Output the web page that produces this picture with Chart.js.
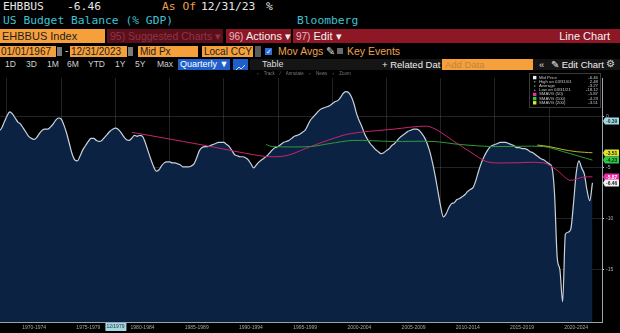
<!DOCTYPE html>
<html>
<head>
<meta charset="utf-8">
<script src="https://cdn.jsdelivr.net/npm/chart.js@4.4.1/dist/chart.umd.min.js"></script>
<style>
  html, body { margin: 0; padding: 0; background: #000; }
  body { width: 620px; height: 333px; position: relative; overflow: hidden; }
  .t { position: absolute; white-space: nowrap; }
  .mono { font-family: "DejaVu Sans Mono", monospace; font-size: 11.3px; line-height: 14px; height: 14px; }
  .sans { font-family: "Liberation Sans", Arial, sans-serif; }
  .orange { background: #f6a03c; color: #1c1c1c; }
  #chart { position: absolute; left: 0; top: 70px; }
</style>
</head>
<body>

<!-- security line -->
<span class="t mono" style="left:3px;top:0;color:#e6e6e6">EHBBUS</span>
<span class="t mono" style="left:67px;top:0;color:#e6e6e6">-6.46</span>
<span class="t mono" style="left:162px;top:0;color:#eea24a">As Of</span>
<span class="t mono" style="left:201px;top:0;color:#e6e6e6">12/31/23</span>
<span class="t mono" style="left:266px;top:0;color:#e6e6e6">%</span>
<span class="t mono" style="left:3px;top:14px;color:#3ec2d6">US Budget Balance (% GDP)</span>
<span class="t mono" style="left:297px;top:14px;color:#3ec2d6">Bloomberg</span>

<!-- menu bar -->
<div class="t" style="left:0;top:29px;width:620px;height:14px;background:#8e1726"></div>
<div class="t sans orange" style="left:0;top:29px;width:105px;height:14px;font-size:11px;line-height:14px;padding-left:2px;box-sizing:border-box">EHBBUS Index</div>
<div class="t" style="left:105px;top:29px;width:2px;height:14px;background:#000"></div>
<div class="t sans" style="left:107px;top:29px;width:116px;height:14px;background:#5c0f1b;color:#8c3644;font-size:10.5px;line-height:14px;padding-left:3px;box-sizing:border-box">95) Suggested Charts ▾</div>
<div class="t" style="left:223px;top:29px;width:3px;height:14px;background:#000"></div>
<span class="t sans" style="left:229px;top:29px;font-size:11px;line-height:14px;color:#f2f2f2"><span style="color:#e7b9bf;font-size:10px">96)</span> Actions ▾</span>
<div class="t" style="left:291px;top:29px;width:2px;height:14px;background:#000"></div>
<span class="t sans" style="left:296px;top:29px;font-size:11px;line-height:14px;color:#f2f2f2"><span style="color:#e7b9bf;font-size:10px">97)</span> Edit ▾</span>
<span class="t sans" style="right:10px;top:29px;font-size:11px;line-height:14px;color:#f2f2f2">Line Chart</span>

<!-- range / field row -->
<div class="t sans orange" style="left:0;top:46px;width:56px;height:11px;font-size:10px;line-height:11px;padding-left:1px;box-sizing:border-box">01/01/1967</div>
<div class="t" style="left:57px;top:47px;width:5px;height:9px;background:#7a7a7a"></div>
<span class="t sans" style="left:65px;top:45px;font-size:10px;line-height:11px;color:#ddd">-</span>
<div class="t sans orange" style="left:70px;top:46px;width:57px;height:11px;font-size:10px;line-height:11px;padding-left:1px;box-sizing:border-box">12/31/2023</div>
<div class="t" style="left:128px;top:47px;width:5px;height:9px;background:#7a7a7a"></div>
<div class="t sans orange" style="left:138px;top:46px;width:60px;height:11px;font-size:10px;line-height:11px;padding-left:2px;box-sizing:border-box">Mid Px</div>
<div class="t sans orange" style="left:202px;top:46px;width:51px;height:11px;font-size:10px;line-height:11px;padding-left:2px;box-sizing:border-box">Local CCY</div>
<div class="t" style="left:255px;top:46px;width:6px;height:11px;background:#5a5a5a"></div>
<div class="t sans" style="left:265px;top:48px;width:7px;height:7px;background:#2d6fdc;color:#fff;font-size:7px;line-height:7px;text-align:center">✓</div>
<span class="t sans" style="left:278px;top:46px;font-size:10.5px;line-height:11px;color:#eea24a">Mov Avgs <span style="color:#ddd">✎</span></span>
<div class="t" style="left:337px;top:48px;width:6px;height:6px;background:#6a6a6a"></div>
<span class="t sans" style="left:347px;top:46px;font-size:10.5px;line-height:11px;color:#eea24a">Key Events</span>

<!-- toolbar row -->
<div class="t" style="left:250px;top:59px;width:370px;height:11px;background:#151515"></div>
<span class="t sans" style="left:5px;top:59px;font-size:8.5px;line-height:11px;color:#cfcfcf;word-spacing:0">1D</span>
<span class="t sans" style="left:26px;top:59px;font-size:8.5px;line-height:11px;color:#cfcfcf">3D</span>
<span class="t sans" style="left:47px;top:59px;font-size:8.5px;line-height:11px;color:#cfcfcf">1M</span>
<span class="t sans" style="left:67px;top:59px;font-size:8.5px;line-height:11px;color:#cfcfcf">6M</span>
<span class="t sans" style="left:88px;top:59px;font-size:8.5px;line-height:11px;color:#cfcfcf">YTD</span>
<span class="t sans" style="left:115px;top:59px;font-size:8.5px;line-height:11px;color:#cfcfcf">1Y</span>
<span class="t sans" style="left:135px;top:59px;font-size:8.5px;line-height:11px;color:#cfcfcf">5Y</span>
<span class="t sans" style="left:157px;top:59px;font-size:8.5px;line-height:11px;color:#cfcfcf">Max</span>
<div class="t sans" style="left:178px;top:59px;width:52px;height:11px;background:#1f5fcc;color:#fff;font-size:9px;line-height:11px;padding-left:2px;box-sizing:border-box">Quarterly ▼</div>
<div class="t" style="left:233px;top:59px;width:15px;height:11px;background:#1f5fcc">
  <svg width="15" height="11"><polyline points="3,8 6,5 8,7 12,3" fill="none" stroke="#cfe0ff" stroke-width="1"/></svg>
</div>
<span class="t sans" style="left:262px;top:59px;font-size:9px;line-height:11px;color:#ddd">Table</span>
<span class="t sans" style="left:382px;top:59px;font-size:9.5px;line-height:11px;color:#eee">+ Related Dat</span>
<div class="t sans orange" style="left:442px;top:59px;width:91px;height:11px;font-size:9.5px;line-height:11px;padding-left:3px;box-sizing:border-box;color:#c2843a">Add Data</div>
<span class="t sans" style="left:539px;top:59px;font-size:9.5px;line-height:11px;color:#ddd">«</span>
<span class="t sans" style="left:551px;top:59px;font-size:9.5px;line-height:11px;color:#eee">✎ Edit Chart</span>
<span class="t sans" style="left:606px;top:58px;font-size:10px;line-height:11px;color:#ddd">⚙</span>

<canvas id="chart" width="620" height="263"></canvas>

<span class="t sans" style="left:257px;top:70px;font-size:4.5px;line-height:8px;color:#7a7a7a;word-spacing:4px">▫ Track ⁄ Annotate ▫ News ▫ Zoom</span>

<script>
// US budget balance, % of GDP, quarterly (rolling 4 quarters)
var firstQuarter = 1969.25;
var budgetBalance = [
  -1.4, -1.1, -0.5,
  0.1, 0.5, 0.3, -0.1,
  -0.5, -0.7, -1.1, -1.5,
  -1.9, -2.1, -2.2, -2.0,
  -1.6, -1.3, -1.2, -1.2,
  -1.0, -0.7, -0.3, -0.1,
  -0.2, -0.8, -1.6, -2.6,
  -3.6, -4.2, -4.3, -3.8,
  -3.2, -2.8, -2.4, -2.1,
  -2.1, -2.3, -2.4, -2.3,
  -2.0, -1.7, -1.4, -1.2,
  -1.1, -1.2, -1.5, -1.9,
  -2.2, -2.3, -2.1, -1.8,
  -1.9, -1.8, -1.9, -2.5,
  -3.3, -4.1, -4.8, -5.3,
  -5.2, -4.8, -4.5, -4.4,
  -4.4, -4.5, -4.5, -4.6,
  -4.7, -4.9, -4.9, -4.9,
  -4.8, -4.6, -4.0, -3.3,
  -3.0, -2.9, -2.9, -2.8,
  -2.7, -2.6, -2.5, -2.5,
  -2.5, -2.7, -2.9, -3.3,
  -3.7, -3.8, -3.9, -3.9,
  -4.0, -4.2, -4.6, -5.0,
  -4.7, -4.4, -4.2, -4.0,
  -3.8, -3.5, -3.2, -3.0,
  -2.9, -2.7, -2.5, -2.4,
  -2.3, -2.1, -1.9, -1.8,
  -1.7, -1.5, -1.3, -0.8,
  -0.3, 0.0, 0.3, 0.6,
  0.8, 0.9, 1.0, 1.1,
  1.3, 1.5, 1.6, 1.9,
  2.3, 2.48, 2.4, 2.0,
  1.3, 0.3, -0.4, -1.0,
  -1.7, -2.2, -2.6, -2.9,
  -3.2, -3.4, -3.6, -3.5,
  -3.3, -3.1, -2.8, -2.6,
  -2.3, -2.0, -1.8, -1.6,
  -1.4, -1.3, -1.2, -1.2,
  -1.3, -1.6, -2.0, -2.6,
  -3.4, -4.5, -5.8, -7.3,
  -8.8, -9.8, -9.5, -8.9,
  -8.5, -8.4, -8.1, -8.0,
  -7.8, -7.6, -7.3, -7.1,
  -6.9, -6.2, -5.3, -4.5,
  -3.9, -3.4, -3.0, -2.8,
  -2.7, -2.6, -2.5, -2.5,
  -2.5, -2.6, -2.7, -2.8,
  -3.0, -3.0, -3.1, -3.1,
  -3.2, -3.4, -3.5, -3.7,
  -3.9, -4.1, -4.2, -4.4,
  -4.6, -4.9, -7.5, -13.8,
  -15.0, -18.12, -11.5, -11.3,
  -11.0, -8.5, -5.5, -4.3,
  -5.0, -5.6, -7.2, -8.2,
  -6.46
];

// simple moving averages
var sma50Years = [1981.5, 1987.8, 1993.3, 1994.9, 1996.1, 1998.0, 2001.0, 2002.6, 2005.6, 2008.7, 2009.7, 2011.1, 2012.7, 2014.3, 2016.4, 2019.5, 2020.7, 2021.9, 2023.1, 2024.0];
var sma50 = [-1.5, -2.7, -3.8, -3.9, -3.7, -2.9, -1.8, -1.5, -1.2, -0.9, -1.3, -2.3, -3.4, -4.4, -4.5, -4.5, -5.2, -6.2, -5.9, -5.87];
var sma100Years = [1993.9, 1994.5, 1998.0, 1999.8, 2001.9, 2005.6, 2009.3, 2011.8, 2014.8, 2019.5, 2021.3, 2024.0];
var sma100 = [-2.7, -2.9, -2.9, -2.6, -2.3, -2.4, -2.4, -2.7, -2.9, -2.9, -3.4, -4.23];
var sma200Years = [2018.9, 2020.0, 2021.3, 2022.5, 2024.0];
var sma200 = [-2.75, -2.9, -3.2, -3.4, -3.51];

var averageValue = -3.27;
var periodLabels = ["1970-1974", "1975-1979", "1980-1984", "1985-1989", "1990-1994", "1995-1999",
  "2000-2004", "2005-2009", "2010-2014", "2015-2019", "2020-2024"];
var yTicks = [0, -5, -10, -15];

function pairs(xs, ys) {
  return ys.map(function (v, i) { return { x: xs[i], y: v }; });
}

var midPoints = budgetBalance.map(function (v, i) {
  return { x: firstQuarter + i * 0.25, y: v };
});

var last = function (a) { return a[a.length - 1]; };
var gridColor = "rgba(150,160,175,0.22)";

var colPink = "#c8246e";
var colGreen = "#2f9a3c";
var colYellow = "#b9b92c";

function fmt(v) { return v.toFixed(2); }

// value tags on the right axis, legend box, crosshair labels
var overlay = {
  id: "overlay",
  afterDraw: function (chart) {
    var ctx = chart.ctx;
    var y = chart.scales.y;
    var x = chart.scales.x;
    var right = chart.chartArea.right;

    function tag(value, text, bg, fg) {
      var py = Math.round(y.getPixelForValue(value));
      ctx.fillStyle = bg;
      ctx.beginPath();
      ctx.moveTo(right + 1, py);
      ctx.lineTo(right + 3, py - 3.5);
      ctx.lineTo(619, py - 3.5);
      ctx.lineTo(619, py + 3.5);
      ctx.lineTo(right + 3, py + 3.5);
      ctx.closePath();
      ctx.fill();
      ctx.fillStyle = fg;
      ctx.font = "bold 5px Liberation Sans";
      ctx.textBaseline = "middle";
      ctx.textAlign = "left";
      ctx.fillText(text, right + 4, py + 0.5);
    }

    tag(-0.39, "-0.39", "#a6d8e2", "#14323a");
    tag(last(sma200), fmt(last(sma200)), "#e4e42c", "#222");
    tag(last(sma100), fmt(last(sma100)), "#2fc84a", "#0b2a10");
    tag(last(sma50), fmt(last(sma50)), "#ee2aa6", "#fff");
    tag(last(budgetBalance), fmt(last(budgetBalance)), "#f0f0f0", "#222");

    // crosshair date on the time axis
    var cx = x.getPixelForValue(1980.0);
    ctx.fillStyle = "#a6d8e2";
    ctx.fillRect(cx - 10, chart.chartArea.bottom + 1, 21, 8);
    ctx.fillStyle = "#14323a";
    ctx.font = "5px Liberation Sans";
    ctx.textAlign = "center";
    ctx.textBaseline = "middle";
    ctx.fillText("12/1979", cx, chart.chartArea.bottom + 5);

    // legend
    var hi = Math.max.apply(null, budgetBalance);
    var lo = Math.min.apply(null, budgetBalance);
    var rows = [
      ["sq", "#f0f0f0", "Mid Price", last(budgetBalance)],
      ["ln", "#ddd", "High on 03/31/01", hi],
      ["ln", "#ddd", "Average", averageValue],
      ["ln", "#ddd", "Low on 03/31/21", lo],
      ["sq", "#ee2aa6", "SMAVG (50)", last(sma50)],
      ["sq", "#2fc84a", "SMAVG (100)", last(sma100)],
      ["sq", "#e4e42c", "SMAVG (200)", last(sma200)]
    ];
    var bx = 529, by = 3, bw = 71, bh = 34;
    ctx.fillStyle = "#000";
    ctx.fillRect(bx, by, bw, bh);
    ctx.strokeStyle = "#3a3a3a";
    ctx.lineWidth = 1;
    ctx.strokeRect(bx + 0.5, by + 0.5, bw, bh);
    ctx.font = "4.3px Liberation Sans";
    ctx.textBaseline = "middle";
    rows.forEach(function (r, i) {
      var ry = by + 4.5 + i * 4.2;
      if (r[0] === "sq") {
        ctx.fillStyle = r[1];
        ctx.fillRect(bx + 4, ry - 1.6, 3.4, 3.4);
      } else {
        ctx.fillStyle = r[1];
        ctx.fillRect(bx + 5, ry - 0.3, 1.4, 0.8);
      }
      ctx.fillStyle = "#c8c8c8";
      ctx.textAlign = "left";
      ctx.fillText(r[2], bx + 10, ry);
      ctx.textAlign = "right";
      ctx.fillText(fmt(r[3]), bx + bw - 2, ry);
    });
  }
};

var config = {
  type: "line",
  data: {
    datasets: [
      {
        label: "Mid Price",
        data: midPoints,
        borderColor: "#c9d2dc",
        borderWidth: 1.2,
        backgroundColor: "#0c2243",
        fill: "start",
        pointRadius: 0,
        cubicInterpolationMode: "monotone",
        order: 4
      },
      {
        label: "SMAVG (50)",
        data: pairs(sma50Years, sma50),
        borderColor: colPink,
        borderWidth: 1,
        pointRadius: 0,
        fill: false,
        tension: 0.3,
        order: 3
      },
      {
        label: "SMAVG (100)",
        data: pairs(sma100Years, sma100),
        borderColor: colGreen,
        borderWidth: 1,
        pointRadius: 0,
        fill: false,
        tension: 0.3,
        order: 2
      },
      {
        label: "SMAVG (200)",
        data: pairs(sma200Years, sma200),
        borderColor: colYellow,
        borderWidth: 1,
        pointRadius: 0,
        fill: false,
        tension: 0.3,
        order: 1
      }
    ]
  },
  options: {
    responsive: false,
    animation: false,
    layout: { padding: { top: 8, left: 0, right: 0, bottom: 0 } },
    plugins: { legend: { display: false }, tooltip: { enabled: false } },
    scales: {
      x: {
        type: "linear",
        min: 1969.355,
        max: 2024.88,
        z: 1,
        afterBuildTicks: function (s) {
          var t = [];
          for (var yr = 1970; yr <= 2020; yr += 5) {
            t.push({ value: yr });
            t.push({ value: yr + 2.5 });
          }
          s.ticks = t;
        },
        afterFit: function (s) { s.height = 11; },
        grid: {
          color: function (c) {
            return c.tick && c.tick.value % 5 === 0 ? gridColor : "rgba(0,0,0,0)";
          },
          drawTicks: false
        },
        border: { color: "#9aa4ae", width: 1 },
        ticks: {
          autoSkip: false,
          maxRotation: 0,
          padding: 3,
          color: "#a8a8a8",
          font: { size: 5, family: "Liberation Sans" },
          callback: function (v) {
            if (v % 5 !== 2.5) return "";
            return periodLabels[Math.round((v - 1972.5) / 5)];
          }
        }
      },
      y: {
        position: "right",
        min: -20.1,
        max: 3.82,
        z: 1,
        afterBuildTicks: function (s) {
          s.ticks = yTicks.map(function (v) { return { value: v }; });
        },
        afterFit: function (s) { s.width = 18; },
        grid: { color: gridColor, tickLength: 2, tickColor: "#dddddd" },
        border: { color: "#9aa4ae", width: 1 },
        ticks: {
          padding: 2,
          color: "#b0b0b0",
          font: { size: 5, family: "Liberation Sans" }
        }
      }
    }
  },
  plugins: [overlay]
};

var ctxOne = document.getElementById("chart").getContext("2d");
new Chart(ctxOne, config);
</script>
</body>
</html>
